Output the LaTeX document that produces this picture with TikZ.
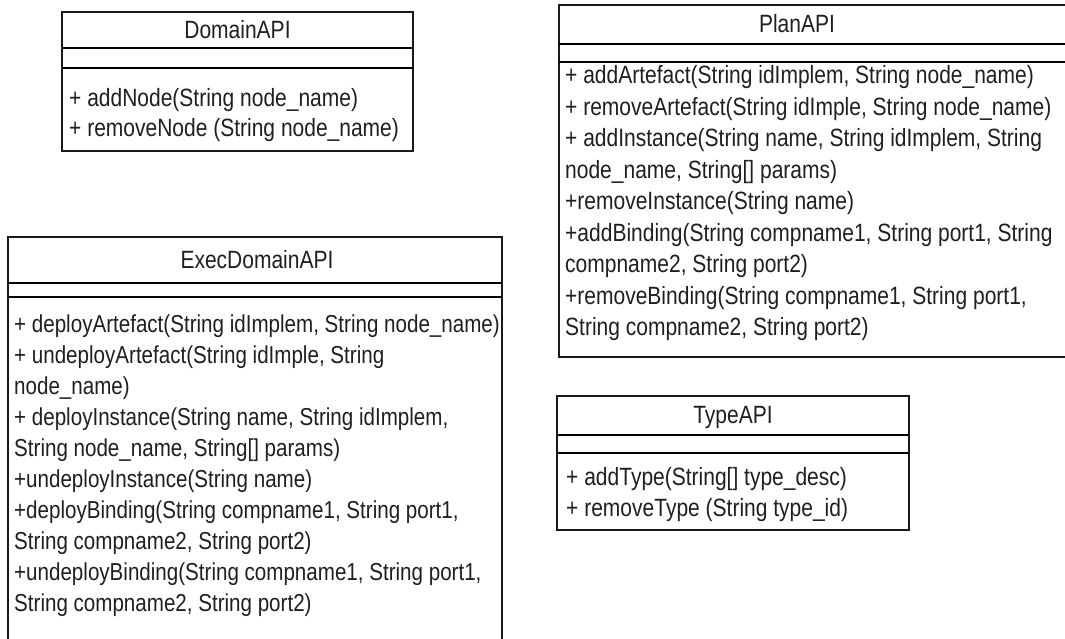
\documentclass[tikz,border=0pt]{standalone}
\usepackage{fontspec}
\setmainfont{Liberation Sans}[FakeStretch=0.84]
\begin{document}
\begin{tikzpicture}[x=1pt,y=-1pt,
  border/.style={line width=1.9pt, draw=black!90},
  sepline/.style={line width=2.8pt, draw=black},
  member/.style={anchor=base west, inner sep=0pt, font=\fontsize{25}{28}\selectfont, text=black!88},
  emember/.style={member, font=\fontsize{24.5}{28}\selectfont},
  ctitle/.style={anchor=base, inner sep=0pt, font=\fontsize{25}{28}\selectfont, text=black!88}]
\useasboundingbox (0,0) rectangle (1065,638);
\clip (0,0) rectangle (1065,638);
% DomainAPI
\draw[border] (62,12) rectangle (413,151);
\draw[sepline] (62,48) -- (413,48);
\draw[sepline] (62,68) -- (413,68);
\node[ctitle] (dT) at (237.5,38.5) {DomainAPI};
\node[member] (d1) at (69,106) {+ addNode(String node\_name)};
\node[member] (d2) at (69,136) {+ removeNode (String node\_name)};
% PlanAPI
\draw[border] (559,5) rectangle (1080,357);
\draw[sepline] (559,44) -- (1080,44);
\draw[sepline] (559,62) -- (1080,62);
\node[ctitle] (pT) at (797,32.5) {PlanAPI};
\node[member] (p1) at (565,83.5) {+ addArtefact(String idImplem, String node\_name)};
\node[member] (p2) at (565,115) {+ removeArtefact(String idImple, String node\_name)};
\node[member] (p3) at (565,146.5) {+ addInstance(String name, String idImplem, String};
\node[member] (p4) at (565,178) {node\_name, String[] params)};
\node[member] (p5) at (565,209.5) {+removeInstance(String name)};
\node[member] (p6) at (565,241) {+addBinding(String compname1, String port1, String};
\node[member] (p7) at (565,272.5) {compname2, String port2)};
\node[member] (p8) at (565,304) {+removeBinding(String compname1, String port1,};
\node[member] (p9) at (565,335.5) {String compname2, String port2)};
% ExecDomainAPI
\draw[border] (8,237) rectangle (502,700);
\draw[sepline] (8,283) -- (502,283);
\draw[sepline] (8,297) -- (502,297);
\node[ctitle] (eT) at (257,268.5) {ExecDomainAPI};
\node[emember] (e1) at (14,332.5) {+ deployArtefact(String idImplem, String node\_name)};
\node[emember] (e2) at (14,363.5) {+ undeployArtefact(String idImple, String};
\node[emember] (e3) at (14,394.5) {node\_name)};
\node[emember] (e4) at (14,425.5) {+ deployInstance(String name, String idImplem,};
\node[emember] (e5) at (14,456.5) {String node\_name, String[] params)};
\node[emember] (e6) at (14,487.5) {+undeployInstance(String name)};
\node[emember] (e7) at (14,518.5) {+deployBinding(String compname1, String port1,};
\node[emember] (e8) at (14,549.5) {String compname2, String port2)};
\node[emember] (e9) at (14,580.5) {+undeployBinding(String compname1, String port1,};
\node[emember] (e10) at (14,611.5) {String compname2, String port2)};
% TypeAPI
\draw[border] (557,396) rectangle (909,530);
\draw[sepline] (557,435) -- (909,435);
\draw[sepline] (557,453) -- (909,453);
\node[ctitle] (tT) at (733,423.5) {TypeAPI};
\node[member] (t1) at (566,485.5) {+ addType(String[] type\_desc)};
\node[member] (t2) at (566,516.5) {+ removeType (String type\_id)};
\end{tikzpicture}
\end{document}
